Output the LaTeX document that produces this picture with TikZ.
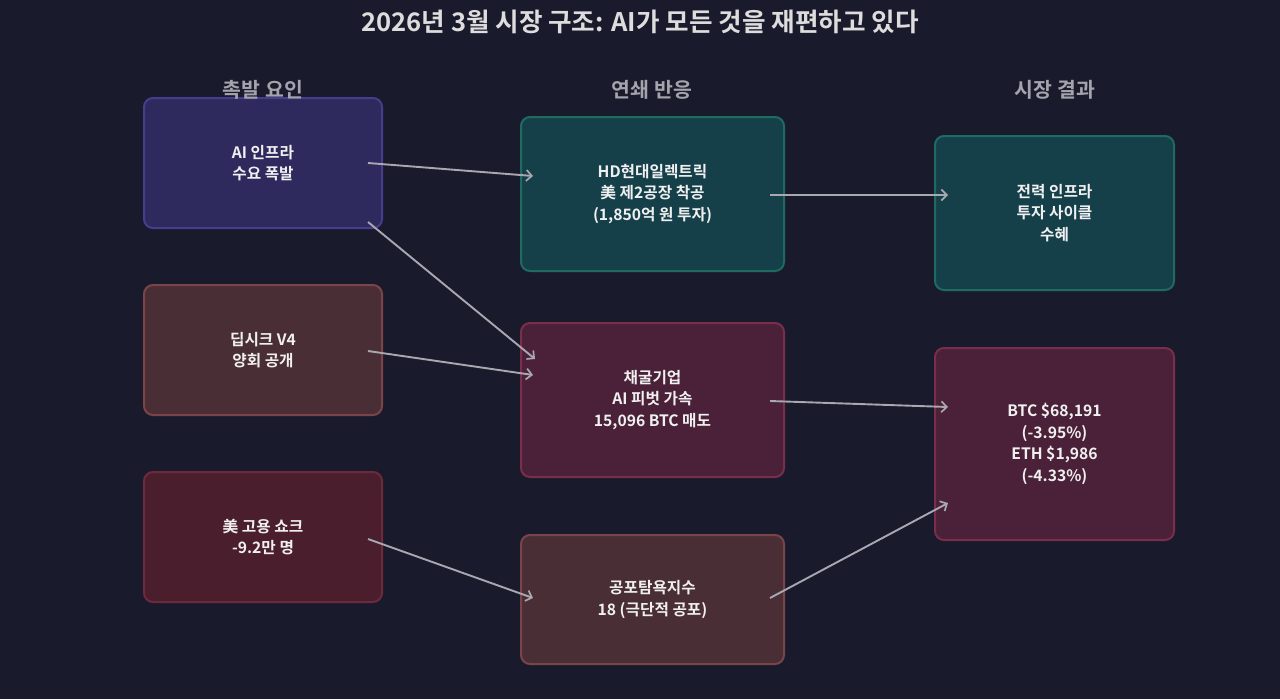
\documentclass[tikz,border=0pt]{standalone}
\usepackage{fontspec}
\setmainfont{Noto Sans CJK KR}[BoldFont={Noto Sans CJK KR Bold}]
\usetikzlibrary{arrows.meta}
\definecolor{bg}{HTML}{1A1A2D}
\definecolor{purplefill}{HTML}{2E2A5E}
\definecolor{purpleline}{HTML}{463E8C}
\definecolor{tealfill}{HTML}{15404A}
\definecolor{tealline}{HTML}{1E6B62}
\definecolor{maroonfill}{HTML}{4A2138}
\definecolor{maroonline}{HTML}{7A2E4A}
\definecolor{brownfill}{HTML}{4A2E35}
\definecolor{brownline}{HTML}{7A4448}
\definecolor{redfill}{HTML}{4A1E2C}
\definecolor{redline}{HTML}{6E2A3A}
\definecolor{txt}{HTML}{F0F0F0}
\definecolor{hdr}{HTML}{A4A4AC}
\definecolor{arr}{HTML}{A8A8B0}
\tikzset{
  box/.style={draw, line width=2pt, rounded corners=9pt, text=txt,
    font=\fontsize{15.7}{21.5}\selectfont\bfseries, align=center, inner sep=0pt},
  purplebox/.style={box, fill=purplefill, draw=purpleline},
  tealbox/.style={box, fill=tealfill, draw=tealline},
  maroonbox/.style={box, fill=maroonfill, draw=maroonline},
  brownbox/.style={box, fill=brownfill, draw=brownline},
  redbox/.style={box, fill=redfill, draw=redline},
  header/.style={text=hdr, font=\fontsize{20.5}{24}\selectfont\bfseries},
  conn/.style={draw=arr, line width=1.9pt, -{Straight Barb[length=5.5pt,width=11pt,line width=1.7pt]}}
}
\begin{document}
\begin{tikzpicture}[x=1pt, y=-1pt]
\fill[bg] (0,0) rectangle (1280,699);
\useasboundingbox (0,0) rectangle (1280,699);

\node[text=txt!92!black, font=\fontsize{25.6}{28}\selectfont\bfseries] (title) at (640,22) {2026년 3월 시장 구조: AI가 모든 것을 재편하고 있다};

\node[purplebox, minimum width=238pt, minimum height=130pt] (a1) at (263,163) {AI 인프라\\수요 폭발};
\node[brownbox, minimum width=238pt, minimum height=130pt] (a2) at (263,350) {딥시크 V4\\양회 공개};
\node[redbox, minimum width=238pt, minimum height=130pt] (a3) at (263,537) {美 고용 쇼크\\-9.2만 명};

\node[tealbox, minimum width=263pt, minimum height=154pt] (b1) at (652.5,194) {HD현대일렉트릭\\美 제2공장 착공\\(1,850억 원 투자)};
\node[maroonbox, minimum width=263pt, minimum height=154pt] (b2) at (652.5,400) {채굴기업\\AI 피벗 가속\\15,096 BTC 매도};
\node[brownbox, minimum width=263pt, minimum height=129pt] (b3) at (652.5,599.5) {공포탐욕지수\\18 (극단적 공포)};

\node[tealbox, minimum width=239pt, minimum height=154pt] (c1) at (1054.5,213) {전력 인프라\\투자 사이클\\수혜};
\node[maroonbox, minimum width=239pt, minimum height=192pt] (c2) at (1054.5,444) {BTC \$68,191\\(-3.95\%)\\ETH \$1,986\\(-4.33\%)};

\node[header] (h1) at (263,90) {촉발 요인};
\node[header] (h2) at (652,90) {연쇄 반응};
\node[header] (h3) at (1055,90) {시장 결과};

\coordinate (s1) at ([shift={(-15,0)}]a1.east);
\coordinate (e1) at ([shift={(13,-18)}]b1.west);
\coordinate (s2) at ([shift={(-15,59)}]a1.east);
\coordinate (e2) at ([shift={(15,-41)}]b2.west);
\coordinate (s3) at ([shift={(-15,1)}]a2.east);
\coordinate (e3) at ([shift={(13,-25)}]b2.west);
\coordinate (s4) at ([shift={(-15,2)}]a3.east);
\coordinate (e4) at ([shift={(13,-1.5)}]b3.west);
\coordinate (s5) at ([shift={(-15,1)}]b1.east);
\coordinate (e5) at ([shift={(14,-18)}]c1.west);
\coordinate (s6) at ([shift={(-15,1)}]b2.east);
\coordinate (e6) at ([shift={(14,-37)}]c2.west);
\coordinate (s7) at ([shift={(-15,-1.5)}]b3.east);
\coordinate (e7) at ([shift={(14,59)}]c2.west);

\draw[conn] (s1) -- (e1);
\draw[conn] (s2) -- (e2);
\draw[conn] (s3) -- (e3);
\draw[conn] (s4) -- (e4);
\draw[conn] (s5) -- (e5);
\draw[conn] (s6) -- (e6);
\draw[conn] (s7) -- (e7);
\end{tikzpicture}
\end{document}
